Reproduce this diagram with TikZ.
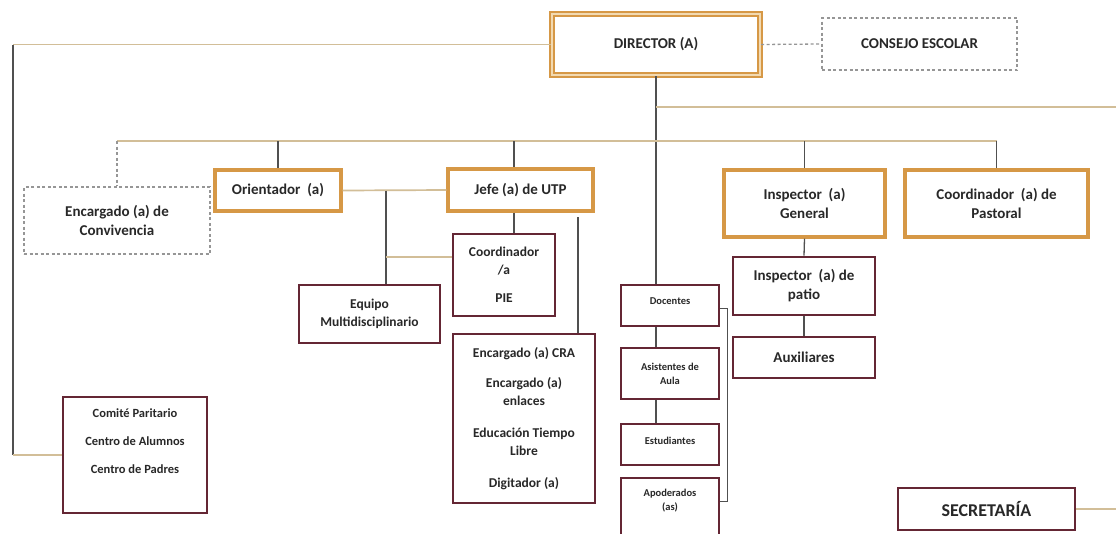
\documentclass[tikz,border=0pt]{standalone}
\usepackage{fontspec}
\setmainfont{Carlito}

\definecolor{ornge}{RGB}{214,152,70}
\definecolor{ornglight}{RGB}{242,218,178}
\definecolor{maroon}{RGB}{100,38,52}
\definecolor{tanline}{RGB}{210,190,152}
\definecolor{linegrey}{RGB}{80,80,80}
\definecolor{txtgrey}{RGB}{40,40,40}
\definecolor{dashgrey}{RGB}{150,150,150}

\tikzset{
	every node/.style={text=txtgrey},
	lvlone/.style={font=\fontsize{15}{19}\selectfont\bfseries},
	lvltwo/.style={font=\fontsize{13.5}{18}\selectfont\bfseries},
	smalltxt/.style={font=\fontsize{10.5}{14}\selectfont\bfseries},
	dirbox/.style={draw=ornge, line width=2.2pt, double=ornglight, double distance=2.2pt, fill=white, align=center},
	orangebox/.style={draw=ornge, line width=3.4pt, fill=white, align=center},
	maroonbox/.style={draw=maroon, line width=2.8pt, fill=white, align=center},
	dashbox/.style={draw=dashgrey, line width=1.3pt, dash pattern=on 3pt off 2.5pt, align=center},
	dashline/.style={draw=dashgrey, line width=1.3pt, dash pattern=on 3pt off 2.5pt},
	greyline/.style={draw=linegrey, line width=1.3pt},
	tanline/.style={draw=tanline, line width=1.7pt},
}

\begin{document}
\begin{tikzpicture}[x=1pt,y=-1pt]
	\useasboundingbox (0,0) rectangle (1116,533);
	\fill[white] (0,0) rectangle (1116,533);

	% top
	\node[dirbox,lvlone,minimum width=208pt,minimum height=61pt] (dir) at (656,44.5) {DIRECTOR (A)};
	\node[dashbox,lvlone,minimum width=195pt,minimum height=52pt] (cons) at (919.5,44) {CONSEJO ESCOLAR};

	% second row
	\node[dashbox,lvlone,minimum width=186pt,minimum height=67pt] (conv) at (117,220.5) {Encargado (a) de\\Convivencia};
	\node[orangebox,lvlone,minimum width=126pt,minimum height=41pt] (orient) at (278,190.5) {Orientador~~(a)};
	\node[orangebox,lvlone,minimum width=145pt,minimum height=42pt] (utp) at (520.5,190) {Jefe (a) de UTP};
	\node[orangebox,lvlone,minimum width=161pt,minimum height=67pt] (insg) at (804.5,203.5) {Inspector~~(a)\\General};
	\node[orangebox,lvlone,minimum width=183pt,minimum height=67pt] (past) at (996.5,203.5) {Coordinador~~(a) de\\Pastoral};

	% under UTP
	\node[maroonbox,lvltwo,minimum width=102pt,minimum height=82pt] (pie) at (504,275) {Coordinador\\/a\\[10pt]PIE};
	\node[maroonbox,lvltwo,minimum width=141pt,minimum height=58pt] (equipo) at (369.5,314) {Equipo\\Multidisciplinario};
	\node[maroonbox,lvltwo,minimum width=142pt,minimum height=169pt] (cra) at (524,418.5) {Encargado (a) CRA\\[12pt]Encargado (a)\\enlaces\\[14pt]Educaci\'on Tiempo\\Libre\\[14pt]Digitador (a)};

	% column under director
	\node[maroonbox,smalltxt,minimum width=98pt,minimum height=41pt] (doc) at (670,305.5) {Docentes\\[-6pt]\mbox{}};
	\node[maroonbox,smalltxt,minimum width=98pt,minimum height=51pt] (asis) at (670,373.5) {Asistentes de\\Aula};
	\node[maroonbox,smalltxt,minimum width=98pt,minimum height=41pt] (estu) at (670,444.5) {Estudiantes\\[-6pt]\mbox{}};
	\node[maroonbox,smalltxt,minimum width=98pt,minimum height=70pt] (apod) at (670,513) {Apoderados\\(as)\\[12pt]\mbox{}};

	% under inspector
	\node[maroonbox,lvlone,minimum width=142pt,minimum height=58pt] (patio) at (804,286) {Inspector~~(a) de\\patio};
	\node[maroonbox,lvlone,minimum width=142pt,minimum height=41pt] (aux) at (804,357.5) {Auxiliares};

	\node[maroonbox,font=\fontsize{12.5}{28}\selectfont\bfseries,minimum width=144pt,minimum height=116pt] (comite) at (135,455) {Comit\'e Paritario\\Centro de Alumnos\\Centro de Padres\\\mbox{}};
	\node[maroonbox,font=\fontsize{18}{22}\selectfont\bfseries,minimum width=177pt,minimum height=42pt] (secre) at (986.5,509) {SECRETAR\'IA};

	% bus lines
	\coordinate (lbus) at (13,0);
	\coordinate (mbus) at (0,141);
	\coordinate (rbus) at (1116,107);
	\coordinate (eqx) at (386,0);
	\coordinate (utpx) at (514,0);
	\coordinate (crax) at (578,217);
	\coordinate (brk) at (727,0);
	\coordinate (redge) at (1116,0);
	\coordinate (pieline) at ([yshift=18pt]pie.west);
	\coordinate (doctick) at ([yshift=-3pt]doc.east);
	\coordinate (apodtick) at ([yshift=12pt]apod.east);

	\draw[tanline] (dir.west) -- (dir.west -| lbus);
	\draw[greyline] (dir.west -| lbus) -- (comite.west -| lbus);
	\draw[tanline] (comite.west -| lbus) -- (comite.west);
	\draw[dashline] (dir.east) -- (cons.west);
	\draw[greyline] (dir.south) -- (dir.south |- doc.north);
	\draw[tanline] (rbus -| dir.south) -- (rbus);

	\draw[tanline] (mbus -| conv.north) -- (mbus -| past.north);
	\draw[dashline] (mbus -| conv.north) -- (conv.north);
	\foreach \n in {orient,insg,past}{
		\draw[greyline] (mbus -| \n.north) -- (\n.north);
	}
	\draw[greyline] (mbus -| utpx) -- (utp.north -| utpx);
	\draw[greyline] (utp.south -| utpx) -- (pie.north -| utpx);

	\draw[tanline] (orient.east) -- (utp.west);
	\draw[greyline] (orient.east -| eqx) -- (equipo.north -| eqx);
	\draw[tanline] (pieline -| eqx) -- (pieline);
	\draw[greyline] (crax) -- (crax |- cra.north);

	\foreach \a/\b in {doc/asis,asis/estu}{
		\draw[greyline] (\a.south -| dir.south) -- (\b.north -| dir.south);
	}
	\draw[greyline,line width=0.9pt] (doctick) -| (apodtick -| brk) -- (apodtick);

	\draw[greyline] (insg.south) -- (patio.north);
	\draw[greyline] (patio.south) -- (aux.north);
	\draw[tanline] (secre.east) -- (secre.east -| redge);
\end{tikzpicture}
\end{document}
